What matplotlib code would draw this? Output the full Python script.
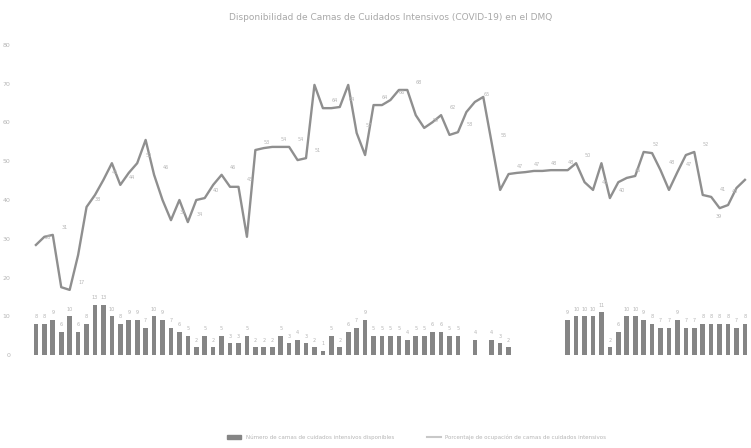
import numpy as np
import matplotlib
matplotlib.use("Agg")
import matplotlib.pyplot as plt
from matplotlib.lines import Line2D
from matplotlib.patches import Patch

title = "Disponibilidad de Camas de Cuidados Intensivos (COVID-19) en el DMQ"
bar_label = "Número de camas de cuidados intensivos disponibles"
line_label = "Porcentaje de ocupación de camas de cuidados intensivos"

days = list(range(85))

beds_available = [8, 8, 9, 6, 10, 6, 8, 13, 13, 10,
                  8, 9, 9, 7, 10, 9, 7, 6, 5, 2,
                  5, 2, 5, 3, 3, 5, 2, 2, 2, 5,
                  3, 4, 3, 2, 1, 5, 2, 6, 7, 9,
                  5, 5, 5, 5, 4, 5, 5, 6, 6, 5,
                  5, 0, 4, 0, 4, 3, 2, np.nan, np.nan, np.nan,
                  np.nan, np.nan, np.nan, 9, 10, 10, 10, 11, 2, 6,
                  10, 10, 9, 8, 7, 7, 9, 7, 7, 8,
                  8, 8, 8, 7, 8]

occupancy = [28.4, 30.5, 31.0, 17.5, 16.8, 25.8, 38.2, 41.3, 45.2, 49.5,
             43.9, 47.0, 49.5, 55.5, 46.5, 40.0, 34.8, 40.0, 34.3, 40.0,
             40.5, 43.9, 46.5, 43.4, 43.4, 30.5, 52.9, 53.4, 53.7, 53.7,
             53.7, 50.3, 50.8, 69.7, 63.7, 63.7, 64.0, 69.7, 57.3, 51.6,
             64.5, 64.5, 65.8, 68.4, 68.4, 61.9, 58.6, 60.1, 61.9, 56.8,
             57.5, 62.7, 65.3, 66.6, 54.7, 42.6, 46.7, 47.0, 47.2, 47.5,
             47.5, 47.7, 47.7, 47.7, 49.5, 44.6, 42.6, 49.5, 40.5, 44.6,
             45.7, 46.2, 52.4, 52.1, 47.7, 42.6, 47.2, 51.6, 52.4, 41.3,
             40.8, 37.9, 38.7, 43.1, 45.2]

y_ticks = [0, 10, 20, 30, 40, 50, 60, 70, 80]

bar_color = "#858585"
line_color = "#8f8f8f"
text_color = "#b5b5b5"

fig = plt.figure(figsize=(7.51, 4.48), dpi=100)
ax = fig.add_axes([30 / 751, 93 / 448, 720 / 751, 310 / 448])

ax.bar(days, beds_available, width=0.55, color=bar_color, zorder=2)
ax.plot(days, occupancy, color=line_color, lw=1.7, zorder=3)

for x, v in zip(days, beds_available):
    if v == v and v > 0:
        ax.text(x, v + 1.2, f"{int(v)}", ha="center", va="bottom",
                fontsize=3.5, color=text_color, zorder=4)

n = len(days)
for x, v in zip(days, occupancy):
    if x % 2 == 0:
        if x >= n - 3:
            ax.text(x - 0.8, v - 3.0, f"{v:.0f}", ha="right", va="center",
                    fontsize=3.5, color=text_color, zorder=4)
        else:
            ax.text(x + 1.0, v + 2.0, f"{v:.0f}", ha="left", va="center",
                    fontsize=3.5, color=text_color, zorder=4)

ax.set_xlim(-0.7, 84.6)
ax.set_ylim(0, 80)
ax.set_yticks(y_ticks)
ax.set_yticklabels([str(t) for t in y_ticks], fontsize=4.5, color=text_color)
ax.tick_params(axis="y", length=0, pad=14)
ax.set_xticks([])
for s in ax.spines.values():
    s.set_visible(False)

fig.text(0.52, 0.962, title, ha="center", va="center", fontsize=6.5, color="#a8a8a8")

handles = [Patch(color=bar_color), Line2D([0], [0], color="#c8c8c8", lw=1.5)]
fig.legend(handles, [bar_label, line_label], loc="center", bbox_to_anchor=(0.555, 0.025),
           ncol=2, frameon=False, fontsize=4, labelcolor=text_color,
           handlelength=2.5, columnspacing=6)

fig.savefig("out.png", dpi=100)
